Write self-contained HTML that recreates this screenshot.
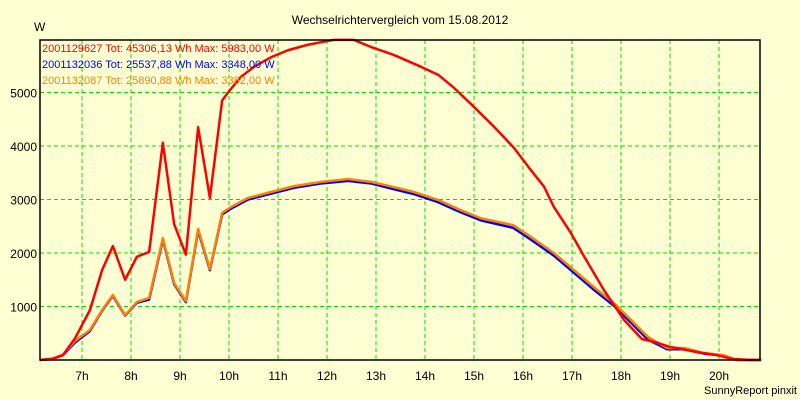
<!DOCTYPE html>
<html><head><meta charset="utf-8"><style>
body{margin:0;background:#ffffd4;}
svg{display:block;font-family:"Liberation Sans",sans-serif;}
</style></head><body>
<svg id="c" width="800" height="400">
<rect width="800" height="400" fill="#ffffd4"/>
<text x="400" y="24" text-anchor="middle" font-size="12">Wechselrichtervergleich vom 15.08.2012</text>
<text x="34" y="31" font-size="12">W</text>
<text x="797" y="394" text-anchor="end" font-size="11">SunnyReport pinxit</text>
<g id="grid"></g><g id="series"></g><g id="axes"></g>
<g font-size="11">
<text x="42" y="52" fill="#ff0000">2001129627 Tot: 45306,13 Wh Max: 5983,00 W</text>
<text x="42" y="68" fill="#0000ff">2001132036 Tot: 25537,88 Wh Max: 3348,00 W</text>
<text x="42" y="84" fill="#ff8000">2001132087 Tot: 25890,88 Wh Max: 3382,00 W</text>
</g>
</svg>
<script>
const yTicks=[1000,2000,3000,4000,5000];
const xTicks=[7,8,9,10,11,12,13,14,15,16,17,18,19,20];
const redT=[6.14,6.39,6.61,6.86,7.16,7.41,7.63,7.88,8.12,8.37,8.65,8.88,9.12,9.37,9.61,9.86,9.98,10.24,10.51,10.86,11.2,11.6,11.88,12.14,12.55,12.9,13.37,13.92,14.27,14.6,15.0,15.41,15.82,16.16,16.43,16.63,16.98,17.25,17.65,18.06,18.43,18.67,19.02,19.55,19.96,20.27,20.65,20.86];
const redV=[0,20,90,410,930,1680,2130,1500,1930,2020,4060,2540,1970,4350,3030,4850,5000,5290,5480,5660,5790,5890,5940,5983,5983,5850,5700,5480,5330,5080,4730,4360,3960,3550,3240,2860,2370,1930,1310,750,390,340,240,150,90,20,0,0];
const orT=[6.14,6.39,6.61,6.86,7.16,7.41,7.63,7.88,8.12,8.37,8.65,8.88,9.12,9.37,9.61,9.86,10.04,10.39,10.86,11.33,11.88,12.43,12.9,13.37,13.78,14.27,14.73,15.14,15.8,16.16,16.63,17.04,17.45,17.86,18.2,18.55,18.94,19.29,19.69,20.1,20.35,20.86];
const orV=[0,20,100,360,560,935,1215,840,1085,1160,2280,1440,1100,2450,1700,2750,2860,3030,3140,3250,3330,3382,3330,3230,3140,2990,2800,2650,2520,2300,2000,1680,1360,1060,750,430,225,225,130,90,0,0];
const blV=[0,20,90,330,540,920,1200,830,1070,1130,2250,1420,1080,2420,1680,2720,2830,3000,3110,3220,3300,3348,3300,3190,3100,2950,2760,2610,2470,2250,1950,1630,1310,1010,700,380,200,200,120,80,0,0];
const X0=40,X1=760,Y0=360,Y1=40;
const x=t=>82+(t-7)*49;
const y=v=>Y0-v*0.0535;
const NS="http://www.w3.org/2000/svg";
function mk(tag,attrs,parent){const e=document.createElementNS(NS,tag);for(const k in attrs)e.setAttribute(k,attrs[k]);document.getElementById(parent).appendChild(e);return e;}
yTicks.forEach(v=>{
 const l=mk('line',{x1:X0,x2:X1,y1:y(v),y2:y(v),stroke:'#00e000','stroke-dasharray':'4,3'},'grid');
 
 
 const t=mk('text',{x:37,y:y(v)+5,'text-anchor':'end','font-size':'12'},'axes');
 t.textContent=v;
 
 
});
xTicks.forEach(h=>{
 const l=mk('line',{x1:x(h),x2:x(h),y1:Y1,y2:Y0,stroke:'#00e000','stroke-dasharray':'4,3'},'grid');
 
 
 const t=mk('text',{x:x(h),y:380,'text-anchor':'middle','font-size':'12'},'axes');
 t.textContent=h+'h';
 
 
});
const frame=mk('path',{d:`M${X0},${Y1}H${X1}V${Y0}H${X0}Z`,fill:'none',stroke:'#000','stroke-width':1.5},'axes');


function line(T,V,col,name){
 const p=mk('polyline',{points:T.map((t,i)=>x(t)+','+y(V[i])).join(' '),fill:'none',stroke:col,'stroke-width':2.5,'stroke-linejoin':'round'},'series');
 
 
}
line(orT,blV,'#0000ff','series-2001132036');
line(orT,orV,'#ff8000','series-2001132087');
line(redT,redV,'#ff0000','series-2001129627');
</script>
</body></html>
